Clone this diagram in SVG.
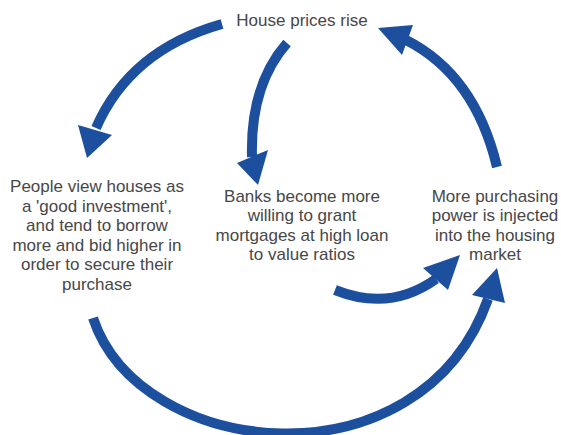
<svg xmlns="http://www.w3.org/2000/svg" width="561" height="435" viewBox="0 0 561 435">
<style>
.lbl{font-family:"Liberation Sans",Arial,sans-serif;font-size:17px;fill:#474747;text-anchor:middle}
.arc{fill:none;stroke:#1d4f9f;stroke-width:10}
.head{fill:#1d4f9f}
</style>
<rect width="561" height="435" fill="#ffffff"/>
<g id="connectors">
<path class="arc" d="M222,24 Q130,50 96,128"/>
<polygon class="head" points="78,125 112,135 87,158"/>
<path class="arc" d="M287,43 Q250,85 252,157"/>
<polygon class="head" points="237,163 268,150 258,185"/>
<path class="arc" d="M497,167 Q475,75 406,40"/>
<polygon class="head" points="378,28 413,25 402,55"/>
<path class="arc" d="M335,290 Q390,312 436,279"/>
<polygon class="head" points="423,268 448,290 460,255"/>
<path class="arc" d="M93,318 C140,460 420,490 488,299"/>
<polygon class="head" points="472,295 505,303 497,268"/>
</g>
<g id="node-prices">
<text class="lbl" x="302" y="26">House prices rise</text>
</g>
<g id="node-people">
<text class="lbl" x="97" y="192">People view houses as</text>
<text class="lbl" x="97" y="211.5">a 'good investment',</text>
<text class="lbl" x="97" y="231">and tend to borrow</text>
<text class="lbl" x="97" y="250.5">more and bid higher in</text>
<text class="lbl" x="97" y="270">order to secure their</text>
<text class="lbl" x="97" y="289.5">purchase</text>
</g>
<g id="node-banks">
<text class="lbl" x="302" y="201.5">Banks become more</text>
<text class="lbl" x="302" y="221">willing to grant</text>
<text class="lbl" x="302" y="240.5">mortgages at high loan</text>
<text class="lbl" x="302" y="260">to value ratios</text>
</g>
<g id="node-power">
<text class="lbl" x="495" y="201.5">More purchasing</text>
<text class="lbl" x="495" y="221">power is injected</text>
<text class="lbl" x="495" y="240.5">into the housing</text>
<text class="lbl" x="495" y="260">market</text>
</g>
</svg>
